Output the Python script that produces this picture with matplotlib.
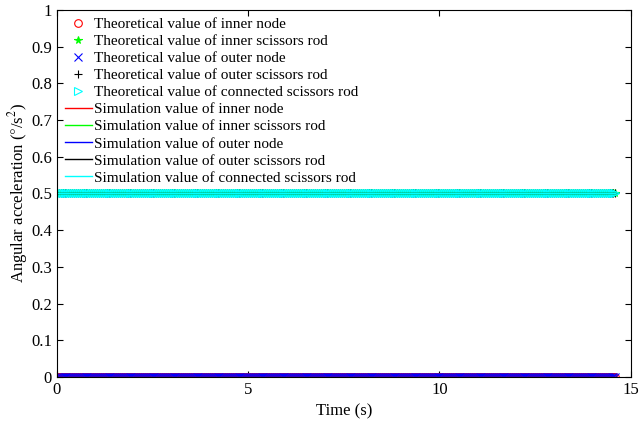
import matplotlib
matplotlib.use("Agg")
import matplotlib.pyplot as plt
import numpy as np

plt.rcParams['font.family'] = ['Liberation Serif', 'DejaVu Serif']
plt.rcParams['mathtext.fontset'] = 'stix'

# time samples (s)
t = np.arange(0, 14.61, 0.05)

# angular acceleration levels (deg/s^2)
inner_node_val = 0.0
inner_rod_val = 0.5
outer_node_val = 0.0
outer_rod_val = 0.5
conn_rod_val = 0.5

theo_inner_node = np.full(t.size, inner_node_val)
theo_inner_rod = np.full(t.size, inner_rod_val)
theo_outer_node = np.full(t.size, outer_node_val)
theo_outer_rod = np.full(t.size, outer_rod_val)
theo_conn_rod = np.full(t.size, conn_rod_val)

sim_inner_node = np.full(t.size, inner_node_val)
sim_inner_rod = np.full(t.size, inner_rod_val)
sim_outer_node = np.full(t.size, outer_node_val)
sim_outer_rod = np.full(t.size, outer_rod_val)
sim_conn_rod = np.full(t.size, conn_rod_val)

fig = plt.figure(figsize=(6.39, 4.26), dpi=100)
ax = fig.add_axes([0.089, 0.115, 0.898, 0.862])

ms = 5.5
ax.plot(t, theo_inner_node, 'o', color='red', mfc='none', ms=ms, mew=0.8,
        label='Theoretical value of inner node')
ax.plot(t, theo_inner_rod, '*', color='#00ff00', ms=ms, mew=0.8,
        label='Theoretical value of inner scissors rod')
ax.plot(t, theo_outer_node, 'x', color='blue', ms=ms, mew=0.8,
        label='Theoretical value of outer node')
ax.plot(t, theo_outer_rod, '+', color='black', ms=ms, mew=0.8,
        label='Theoretical value of outer scissors rod')
ax.plot(t, theo_conn_rod, '>', color='cyan', mfc='none', ms=ms, mew=0.8,
        label='Theoretical value of connected scissors rod')

ax.plot(t, sim_inner_node, '-', color='red', lw=1,
        label='Simulation value of inner node')
ax.plot(t, sim_inner_rod, '-', color='#00ff00', lw=1,
        label='Simulation value of inner scissors rod')
ax.plot(t, sim_outer_node, '-', color='blue', lw=1,
        label='Simulation value of outer node')
ax.plot(t, sim_outer_rod, '-', color='black', lw=1,
        label='Simulation value of outer scissors rod')
ax.plot(t, sim_conn_rod, '-', color='cyan', lw=1,
        label='Simulation value of connected scissors rod')

ax.set_xlim(0, 15)
ax.set_ylim(0, 1)
ax.set_xticks([0, 5, 10, 15])
ax.set_yticks(np.arange(0, 1.01, 0.1))
ax.set_yticklabels(['0', '0.1', '0.2', '0.3', '0.4', '0.5', '0.6', '0.7', '0.8', '0.9', '1'])
ax.tick_params(direction='in', top=True, right=True, labelsize=12, length=4)
ax.set_xlabel('Time (s)', fontsize=12, labelpad=4)
ax.set_ylabel(r'Angular acceleration ($\degree$/s$^2$)', fontsize=12, labelpad=1)

ax.legend(loc='upper left', frameon=False, fontsize=11, handlelength=1.8,
          handletextpad=0.15, labelspacing=0.22, borderaxespad=0.1,
          bbox_to_anchor=(0.0, 1.0))

fig.savefig('out.png', dpi=100)
